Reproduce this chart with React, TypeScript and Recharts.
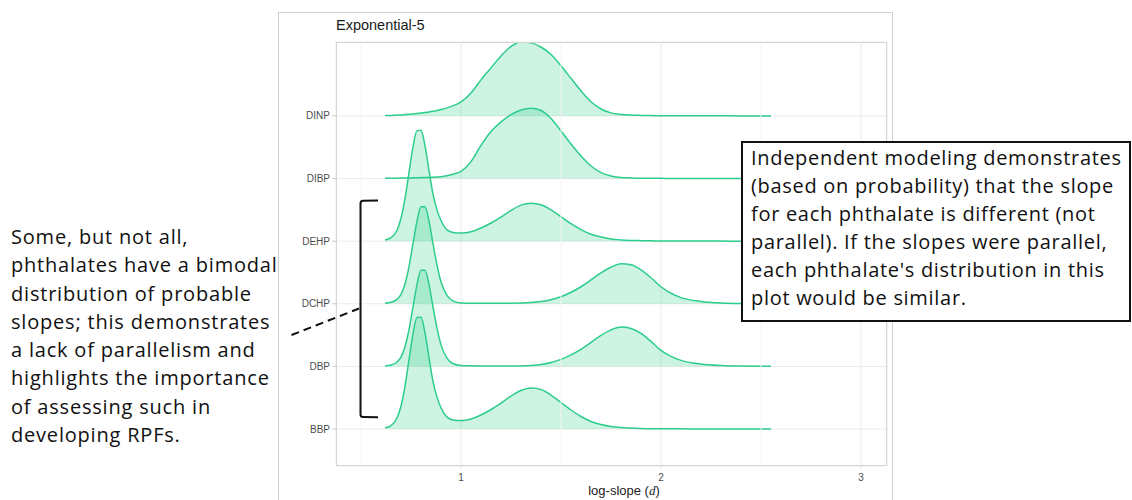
import React from "react";
import {
  ComposedChart,
  Area,
  XAxis,
  YAxis,
  CartesianGrid,
  ReferenceLine,
} from "recharts";

// log-slope grid the densities were read at
const SLOPE = [
  0.62, 0.65, 0.68, 0.7, 0.72, 0.74, 0.76, 0.78, 0.8, 0.82, 0.84, 0.86, 0.88, 0.9, 0.93, 0.96,
  1.0, 1.05, 1.1, 1.15, 1.2, 1.25, 1.3, 1.35, 1.4, 1.45, 1.5, 1.55, 1.6, 1.65, 1.7, 1.75, 1.8, 1.85, 1.9, 1.95,
  2.0, 2.05, 2.1, 2.2, 2.3, 2.4, 2.55,
];

// ridge heights, in units of row spacing
const DINP = [
  0.005, 0.008, 0.013, 0.016, 0.021, 0.026, 0.032, 0.038, 0.045, 0.053, 0.062, 0.073, 0.086, 0.101, 0.128, 0.16,
  0.224, 0.367, 0.575, 0.767, 0.958, 1.11, 1.18, 1.166, 1.1, 0.98, 0.8, 0.6, 0.4, 0.225, 0.11, 0.048, 0.024, 0.013, 0.008, 0.005,
  0.003, 0.002, 0.002, 0.001, 0.001, 0, 0,
];
const DIBP = [
  0.003, 0.005, 0.006, 0.008, 0.009, 0.01, 0.011, 0.013, 0.014, 0.016, 0.018, 0.021, 0.025, 0.03, 0.045, 0.068,
  0.115, 0.27, 0.53, 0.75, 0.905, 1.02, 1.094, 1.123, 1.086, 0.96, 0.76, 0.55, 0.36, 0.2, 0.095, 0.04, 0.016, 0.01, 0.006, 0.005,
  0.003, 0.002, 0.002, 0.001, 0.001, 0, 0,
];
const DEHP = [
  0.02, 0.056, 0.175, 0.365, 0.68, 1.095, 1.505, 1.765, 1.77, 1.52, 1.13, 0.75, 0.5, 0.33, 0.18, 0.14,
  0.13, 0.15, 0.21, 0.29, 0.385, 0.49, 0.575, 0.605, 0.58, 0.5, 0.39, 0.28, 0.185, 0.11, 0.065, 0.035, 0.02, 0.012, 0.008, 0.005,
  0.004, 0.003, 0.002, 0.001, 0.001, 0, 0,
];
const DCHP = [
  0.008, 0.024, 0.071, 0.15, 0.316, 0.593, 0.96, 1.32, 1.549, 1.549, 1.32, 0.96, 0.617, 0.348, 0.134, 0.047,
  0.013, 0.01, 0.008, 0.008, 0.008, 0.01, 0.013, 0.019, 0.035, 0.064, 0.112, 0.184, 0.272, 0.383, 0.495, 0.583, 0.639, 0.623, 0.543, 0.415,
  0.272, 0.168, 0.099, 0.038, 0.013, 0.005, 0.002,
];
const DBP = [
  0.008, 0.023, 0.07, 0.149, 0.313, 0.587, 0.95, 1.307, 1.534, 1.534, 1.307, 0.95, 0.61, 0.344, 0.133, 0.047,
  0.015, 0.01, 0.008, 0.006, 0.005, 0.005, 0.008, 0.016, 0.032, 0.064, 0.112, 0.184, 0.272, 0.383, 0.495, 0.583, 0.628, 0.607, 0.527, 0.399,
  0.256, 0.16, 0.096, 0.037, 0.013, 0.005, 0.002,
];
const BBP = [
  0.02, 0.056, 0.177, 0.368, 0.686, 1.105, 1.52, 1.78, 1.785, 1.535, 1.14, 0.76, 0.51, 0.34, 0.19, 0.145,
  0.135, 0.16, 0.224, 0.312, 0.415, 0.527, 0.615, 0.655, 0.631, 0.543, 0.423, 0.304, 0.2, 0.12, 0.072, 0.04, 0.024, 0.016, 0.01, 0.006,
  0.005, 0.004, 0.003, 0.002, 0.001, 0.001, 0,
];

// bottom to top
const ROWS = ["BBP", "DBP", "DCHP", "DEHP", "DIBP", "DINP"];
const X_TICKS = [1, 2, 3];
const X_MINOR = [0.5, 1.5, 2.5];

const LEFT_NOTE = [
  "Some, but not all,",
  "phthalates have a bimodal",
  "distribution of probable",
  "slopes; this demonstrates",
  "a lack of parallelism and",
  "highlights the importance",
  "of assessing such in",
  "developing RPFs.",
];
const RIGHT_NOTE = [
  "Independent modeling demonstrates",
  "(based on probability) that the slope",
  "for each phthalate is different (not",
  "parallel). If the slopes were parallel,",
  "each phthalate's distribution in this",
  "plot would be similar.",
];

const GREEN = "#2ccd8c";
const NOTE_FONT = "'Open Sans', sans-serif";

const series: Record<string, number[]> = { BBP, DBP, DCHP, DEHP, DIBP, DINP };

// draw top ridge first so lower ones sit on top
const ridges = [...ROWS].reverse().map((name) => ({ name, base: ROWS.indexOf(name) + 1 }));

const data = SLOPE.map((x, i) => {
  const row: Record<string, number> = { x };
  for (const r of ridges) row[r.name] = r.base + series[r.name][i];
  return row;
});

export default function App() {
  return (
    <div
      style={{
        position: "absolute",
        left: 0,
        top: 0,
        width: 1132,
        height: 500,
        background: "#fff",
        overflow: "hidden",
      }}
    >
      {/* image frame */}
      <div
        style={{
          position: "absolute",
          left: 278,
          top: 12,
          width: 615,
          height: 500,
          border: "1px solid #cfcfcf",
          borderBottom: "none",
          boxSizing: "border-box",
        }}
      />
      <div style={{ position: "absolute", left: 278, top: 12 }}>
        <ComposedChart
          width={615}
          height={488}
          data={data}
          margin={{ top: 30, right: 6, bottom: 0, left: 0 }}
        >
          <CartesianGrid stroke="#ebebeb" />
          {X_MINOR.map((v) => (
            <ReferenceLine key={v} x={v} stroke="#f4f4f4" strokeWidth={1} />
          ))}
          <XAxis
            type="number"
            dataKey="x"
            domain={[0.375, 3.13]}
            allowDataOverflow
            ticks={X_TICKS}
            height={34}
            axisLine={false}
            tickSize={3}
            tickMargin={5}
            tickLine={{ stroke: "#e0e0e0" }}
            tick={{ fontSize: 10, fill: "#4d4d4d", fontFamily: "'Liberation Sans', Arial" }}
          />
          <YAxis
            type="number"
            domain={[0.41, 7.18]}
            allowDataOverflow
            ticks={[1, 2, 3, 4, 5, 6]}
            tickFormatter={(v: number) => ROWS[v - 1]}
            width={58}
            axisLine={false}
            tickSize={4}
            tickMargin={2}
            tickLine={{ stroke: "#cccccc" }}
            tick={{ fontSize: 10, fill: "#4d4d4d", fontFamily: "'Liberation Sans', Arial" }}
          />
          {ridges.map((r) => (
            <Area
              key={r.name}
              type="monotone"
              dataKey={r.name}
              baseValue={r.base}
              stroke={GREEN}
              strokeWidth={1.5}
              fill={GREEN}
              fillOpacity={0.24}
              dot={false}
              activeDot={false}
              isAnimationActive={false}
            />
          ))}
        </ComposedChart>
      </div>
      {/* panel border */}
      <div
        style={{
          position: "absolute",
          left: 336,
          top: 42,
          width: 551,
          height: 424,
          border: "1px solid #d6d6d6",
          boxSizing: "border-box",
        }}
      />
      <div
        style={{
          position: "absolute",
          left: 336,
          top: 18,
          fontSize: 14.5,
          lineHeight: "14.5px",
          fontFamily: "'Liberation Sans', Arial",
          color: "#1a1a1a",
          whiteSpace: "nowrap",
        }}
      >
        Exponential-5
      </div>
      <div
        style={{
          position: "absolute",
          left: 524,
          top: 484,
          width: 200,
          textAlign: "center",
          fontSize: 13,
          lineHeight: "13px",
          fontFamily: "'Liberation Sans', Arial",
          color: "#222",
        }}
      >
        log-slope (<i style={{ fontFamily: "'Liberation Serif', serif" }}>d</i>)
      </div>

      {/* left note */}
      <div
        style={{
          position: "absolute",
          left: 11,
          top: 223,
          fontSize: 20,
          lineHeight: "28.3px",
          letterSpacing: 0.8,
          fontFamily: NOTE_FONT,
          color: "#111",
          whiteSpace: "nowrap",
        }}
      >
        {LEFT_NOTE.map((l) => (
          <div key={l}>{l}</div>
        ))}
      </div>

      {/* right note box */}
      <div
        style={{
          position: "absolute",
          left: 741,
          top: 141,
          width: 390,
          height: 181,
          border: "2px solid #111",
          background: "#fff",
          boxSizing: "border-box",
          padding: "1px 0 0 8px",
          fontSize: 20,
          lineHeight: "28px",
          letterSpacing: 0.7,
          fontFamily: NOTE_FONT,
          color: "#111",
          whiteSpace: "nowrap",
        }}
      >
        {RIGHT_NOTE.map((l) => (
          <div key={l}>{l}</div>
        ))}
      </div>

      <svg
        width={1132}
        height={500}
        style={{ position: "absolute", left: 0, top: 0, pointerEvents: "none" }}
      >
        <path
          d="M378 200.5 L363 200.8 Q360.5 201 360.5 203.5 L360.5 414.5 Q360.5 417 363 417 L378 417.3"
          fill="none"
          stroke="#111"
          strokeWidth={2}
        />
        <path d="M291.5 335 L359 308.5" fill="none" stroke="#111" strokeWidth={2} strokeDasharray="8 5" />
      </svg>
    </div>
  );
}
